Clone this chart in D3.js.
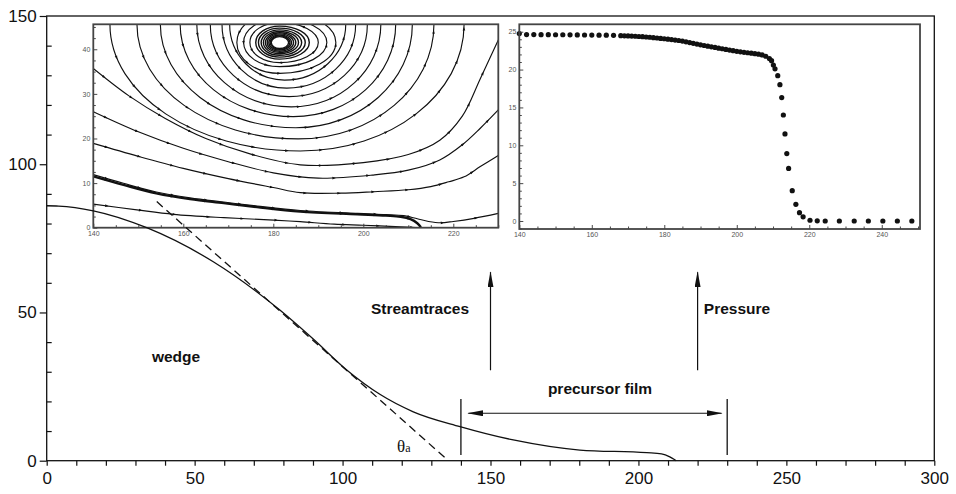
<!DOCTYPE html>
<html>
<head>
<meta charset="utf-8">
<script src="https://cdn.jsdelivr.net/npm/d3@7/dist/d3.min.js"></script>
<style>
  body { margin: 0; background: #fff; }
  svg { display: block; font-family: "Liberation Sans", Arial, sans-serif; }
</style>
</head>
<body>
<svg id="chart" width="956" height="494"></svg>
<script>
// ---- main plot: drop profile + tangent
const profileX = [0, 4, 15.75, 33.8, 56.3, 78.8, 90, 101.4, 112.6, 123.9, 139.7, 157.7, 180.2, 202.8, 207.8, 210.6, 212, 212.7];
const profileY = [86, 85.9, 84.3, 78.6, 67.1, 50.8, 41.1, 30.6, 22.4, 16.5, 11.5, 7.0, 3.6, 2.7, 2.3, 1.3, 0.5, 0];
const tangentX = [37.2, 135.2];
const tangentY = [87.4, 0.5];
const xTicksMain = d3.range(0, 301, 10);
const yTicksMajor = [0, 50, 100, 150];
const yTicksMinor = [10, 20, 30, 40, 60, 70, 80, 90, 110, 120, 130, 140];

// film markers (data units of the main plot)
const filmBounds = [140, 230];
const filmBarY = [1.9, 20.8];
const filmArrowY = 16;
const filmArrowTips = [142.5, 228.1];
const upArrowX = [150, 220];
const upArrowY = [30.5, 63.6];

// ---- inset 1: streamtraces (x, y in inset units)
const streamLower = [
  [[140, 5.3], [149.7, 4.0], [157.8, 3.0], [169, 2.25], [180.1, 1.7], [186, 1.35], [193.5, 0.8], [200, 0.55], [208.3, 0.2], [212.5, 0]],
  [[140, 11.5], [146.7, 9.6], [154, 7.7], [161.5, 6.4], [169, 5.5], [176.4, 4.6], [186, 3.6], [198.7, 3.0], [205, 2.7], [208.3, 2.45], [210.5, 1.9], [212, 1.0], [212.8, 0.1]],
  [[140, 11.9], [146.7, 9.95], [154, 8.0], [161.5, 6.7], [169, 5.75], [176.4, 4.85], [186, 3.85], [198.7, 3.2], [205, 2.95], [209, 2.7], [212, 2.0], [214.5, 1.4], [217.2, 1.1], [220, 1.4], [224.6, 2.1], [230, 3.2]],
  [[140, 18.9], [150, 16.0], [160, 13.3], [170, 11.0], [180, 9.0], [186, 7.85], [195, 7.75], [202.4, 8.07], [210, 8.5], [215, 9.2], [219, 10.3], [222.4, 11.4], [226, 13.7], [230, 16.2]],
  [[140, 26.0], [150, 21.5], [160, 17.8], [170, 14.8], [180, 12.3], [190, 11.1], [202, 11.8], [210, 12.9], [217, 15.2], [222, 18.6], [226, 22.3], [230, 26.4]],
  [[140, 35.7], [148, 29.5], [156, 24.5], [165, 20], [175, 16.5], [186, 14.1], [200, 14.6], [210, 16.4], [217, 19.6], [222, 25], [226, 33.4], [230, 42.1]]
];
// loops: centre x, centre y, left / right half-width, depth below centre (inset units)
const loopCx = [186, 185.5, 185, 184.5, 184, 183.5, 183, 182.5, 181.4, 181.4, 181.4];
const loopCy = [45.6, 45.6, 45.6, 45.6, 45.6, 45.6, 45.6, 45.6, 41.5, 41.5, 41.5];
const loopLeft = [42.3, 35.8, 30.1, 25.2, 21, 17.5, 14.4, 12.2, 9.5, 8.0, 6.6];
const loopRight = [36.4, 30.2, 25.9, 22.7, 19.9, 17.4, 15.3, 13.6, 12.5, 10.5, 8.6];
const loopDepth = [28.4, 25.7, 23.2, 20.7, 18.5, 16.2, 14.3, 12.5, 6.9, 5.4, 4.5];
// closed rings round the vortex
const vortex = [181.4, 41.5];
const ringLeft = [5.3, 4.7, 4.1, 3.6, 3.15, 2.75, 2.4, 2.1, 1.85];
const ringRight = [6.6, 5.7, 4.9, 4.2, 3.6, 3.1, 2.65, 2.3, 2.0];
const ringDepth = [3.7, 3.25, 2.85, 2.5, 2.2, 1.95, 1.7, 1.5, 1.33];

// ---- inset 2: pressure
const pressX = [140, 142, 144, 146, 148, 150, 152, 154, 156, 158, 160, 162, 164, 166,
  168, 169, 170, 171, 172, 173, 174, 175, 176, 177, 178, 179, 180, 181, 182, 183, 184, 185, 186, 187, 188, 189,
  190, 191, 192, 193, 194, 195, 196, 197, 198, 199, 200, 201, 202, 203, 204, 205, 206, 207, 208, 209, 209.6, 210.1,
  210.55, 211.3, 211.9, 212.4, 212.85, 213.3, 213.8, 214.3, 215.3, 216.3, 217.3, 218.3, 220.2, 222.2, 224.4,
  228.3, 232.4, 236.3, 240.3, 244.3, 248.3];
const pressY = [24.75, 24.62, 24.62, 24.61, 24.61, 24.6, 24.6, 24.59, 24.58, 24.57, 24.56, 24.55, 24.54, 24.53,
  24.48, 24.46, 24.44, 24.42, 24.4, 24.37, 24.34, 24.3, 24.27, 24.22, 24.17, 24.12, 24.07, 24.02, 23.96, 23.9, 23.84, 23.76, 23.67, 23.57, 23.47, 23.37,
  23.27, 23.18, 23.09, 23.0, 22.92, 22.83, 22.75, 22.66, 22.58, 22.49, 22.41, 22.34, 22.28, 22.22, 22.16, 22.1, 22.03, 21.93, 21.76, 21.45, 21.17, 20.6,
  20.1, 19.2, 18.0, 16.3, 14.0, 11.5, 8.9, 6.95, 4.0, 2.2, 1.1, 0.55, 0.1, 0.02, 0,
  0, 0, 0, 0, 0, 0];

const svg = d3.select("#chart");

// MAIN SCALES
const X = d3.scaleLinear().domain([0, 300]).range([46.7, 934.3]);
const Y = d3.scaleLinear().domain([0, 150]).range([460.7, 16]);

// frame
svg.append("rect")
  .attr("x", X(0)).attr("y", Y(150))
  .attr("width", X(300) - X(0)).attr("height", Y(0) - Y(150))
  .attr("fill", "none").attr("stroke", "#111").attr("stroke-width", 1.3);

const xAxisG = svg.append("g").attr("transform", `translate(0,${Y(0)})`)
  .call(d3.axisBottom(X).tickValues(xTicksMain).tickSize(5).tickPadding(6)
    .tickFormat((d) => (d % 50 === 0 ? d : "")));
const yAxisG = svg.append("g").attr("transform", `translate(${X(0)},0)`)
  .call(d3.axisLeft(Y).tickValues(yTicksMajor).tickSize(7).tickPadding(3));
const yMinorG = svg.append("g").attr("transform", `translate(${X(0)},0)`)
  .call(d3.axisRight(Y).tickValues(yTicksMinor).tickSize(5).tickFormat(""));
[xAxisG, yAxisG, yMinorG].forEach((g) => {
  g.select(".domain").remove();
  g.selectAll("line").attr("stroke", "#111").attr("stroke-width", 1.2);
  g.selectAll("text").attr("fill", "#111").style("font-size", "17px")
    .style("font-family", '"Liberation Sans", Arial, sans-serif');
});

// INSETS
function insetAxes(g, sx, sy, xMajor, xMinor, yMajor, yMinor) {
  const b = sy.range()[0];
  const l = sx.range()[0];
  const ax = [
    g.append("g").attr("transform", `translate(0,${b})`)
      .call(d3.axisBottom(sx).tickValues(xMajor).tickSize(-4).tickPadding(3).tickFormat(d3.format("d"))),
    g.append("g").attr("transform", `translate(0,${b})`)
      .call(d3.axisBottom(sx).tickValues(xMinor).tickSize(-2.5).tickFormat("")),
    g.append("g").attr("transform", `translate(${l},0)`)
      .call(d3.axisLeft(sy).tickValues(yMajor).tickSize(-4).tickPadding(3).tickFormat(d3.format("d"))),
    g.append("g").attr("transform", `translate(${l},0)`)
      .call(d3.axisLeft(sy).tickValues(yMinor).tickSize(-2.5).tickFormat(""))
  ];
  ax.forEach((a) => {
    a.select(".domain").remove();
    a.selectAll("line").attr("stroke", "#333").attr("stroke-width", 0.9);
    a.selectAll("text").attr("fill", "#555").style("font-size", "7px")
      .style("font-family", '"Liberation Sans", Arial, sans-serif');
  });
}
function insetFrame(g, sx, sy) {
  g.append("rect")
    .attr("x", sx.range()[0]).attr("y", sy.range()[1])
    .attr("width", sx.range()[1] - sx.range()[0])
    .attr("height", sy.range()[0] - sy.range()[1])
    .attr("fill", "none").attr("stroke", "#444").attr("stroke-width", 1.8);
}
// closed curve made of four quarter ellipses, centre (cx, cy) in px
function loopPath(cx, cy, rl, rr, rb) {
  const k = 0.5523;
  const p = d3.path();
  p.moveTo(cx, cy - rb);
  p.bezierCurveTo(cx - k * rl, cy - rb, cx - rl, cy - k * rb, cx - rl, cy);
  p.bezierCurveTo(cx - rl, cy + k * rb, cx - k * rl, cy + rb, cx, cy + rb);
  p.bezierCurveTo(cx + k * rr, cy + rb, cx + rr, cy + k * rb, cx + rr, cy);
  p.bezierCurveTo(cx + rr, cy - k * rb, cx + k * rr, cy - rb, cx, cy - rb);
  return p.toString();
}

// inset 1
const IX1 = d3.scaleLinear().domain([140, 230]).range([93.3, 498.3]);
const IY1 = d3.scaleLinear().domain([0, 45.6]).range([227.7, 24.3]);
const in1 = svg.append("g");
in1.append("rect").attr("x", 93.3).attr("y", 24.3)
  .attr("width", IX1(230) - IX1(140)).attr("height", IY1(0) - IY1(45.6)).attr("fill", "#fff");
svg.append("clipPath").attr("id", "clip1").append("rect")
  .attr("x", IX1(140)).attr("y", IY1(45.6))
  .attr("width", IX1(230) - IX1(140)).attr("height", IY1(0) - IY1(45.6));
const streams = in1.append("g").attr("clip-path", "url(#clip1)")
  .attr("fill", "none").attr("stroke", "#111").attr("stroke-width", 1.15);
const line1 = d3.line().x((d) => IX1(d[0])).y((d) => IY1(d[1])).curve(d3.curveCatmullRom);

const pathNodes = [];
streamLower.forEach((s, i) => {
  const p = streams.append("path").attr("d", line1(s))
    .attr("stroke-width", i === 1 ? 2.4 : 1.15);
  pathNodes.push(p.node());
});
loopCx.forEach((c, i) => {
  const px = IX1(c), py = IY1(loopCy[i]);
  const node = streams.append("path")
    .attr("d", loopPath(px, py,
      px - IX1(c - loopLeft[i]), IX1(c + loopRight[i]) - px,
      IY1(loopCy[i] - loopDepth[i]) - py))
    .node();
  pathNodes.push(node);
});
const vx = IX1(vortex[0]), vy = IY1(vortex[1]);
ringLeft.forEach((rl, i) => {
  streams.append("path")
    .attr("d", loopPath(vx, vy, vx - IX1(vortex[0] - rl), IX1(vortex[0] + ringRight[i]) - vx,
      IY1(vortex[1] - ringDepth[i]) - vy))
    .attr("stroke-width", 1.4);
});
// small flow marks along the traces (only inside the frame)
pathNodes.forEach((node) => {
  const len = node.getTotalLength();
  for (let s = 14; s < len - 6; s += 34) {
    const a = node.getPointAtLength(s), b = node.getPointAtLength(s + 1);
    if (a.y < IY1(45.6) + 2) continue;
    const ang = Math.atan2(b.y - a.y, b.x - a.x) * 180 / Math.PI;
    streams.append("path").attr("d", "M-2,-1.3L1.5,0L-2,1.3Z")
      .attr("transform", `translate(${a.x},${a.y}) rotate(${ang})`)
      .attr("fill", "#111").attr("stroke", "none");
  }
});
insetAxes(in1, IX1, IY1, [140, 160, 180, 200, 220], d3.range(145, 231, 5).filter((d) => d % 20 !== 0),
  [0, 10, 20, 30, 40], d3.range(2.5, 45.6, 2.5).filter((d) => d % 10 !== 0));
insetFrame(in1, IX1, IY1);

// inset 2
const IX2 = d3.scaleLinear().domain([140, 250.55]).range([519.3, 920]);
const IY2 = d3.scaleLinear().domain([-1.057, 25.98]).range([229, 24.3]);
const in2 = svg.append("g");
in2.append("rect").attr("x", 519.3).attr("y", 24.3)
  .attr("width", IX2(250.55) - IX2(140)).attr("height", IY2(-1.057) - IY2(25.98)).attr("fill", "#fff");
in2.append("g").selectAll("circle").data(pressX).join("circle")
  .attr("cx", (d) => IX2(d)).attr("cy", (d, i) => IY2(pressY[i]))
  .attr("r", 2.6).attr("fill", "#111");
insetAxes(in2, IX2, IY2, [140, 160, 180, 200, 220, 240], d3.range(145, 251, 5).filter((d) => d % 20 !== 0),
  [0, 5, 10, 15, 20, 25], d3.range(-1, 26, 1).filter((d) => d % 5 !== 0));
insetFrame(in2, IX2, IY2);

// PROFILE + TANGENT on top
const lineMain = d3.line().x((d) => X(d[0])).y((d) => Y(d[1])).curve(d3.curveMonotoneX);
svg.append("path").attr("d", lineMain(profileX.map((x, i) => [x, profileY[i]])))
  .attr("fill", "none").attr("stroke", "#111").attr("stroke-width", 1.3);
svg.append("path").attr("d", lineMain(tangentX.map((x, i) => [x, tangentY[i]])))
  .attr("fill", "none").attr("stroke", "#111").attr("stroke-width", 1.3)
  .attr("stroke-dasharray", "8,5");

// ANNOTATIONS
const defs = svg.append("defs");
defs.append("marker").attr("id", "head").attr("viewBox", "0 0 16 6")
  .attr("refX", 15).attr("refY", 3).attr("markerWidth", 16).attr("markerHeight", 6)
  .attr("markerUnits", "userSpaceOnUse").attr("orient", "auto-start-reverse")
  .append("path").attr("d", "M0,0L16,3L0,6Z").attr("fill", "#111");

filmBounds.forEach((x) => {
  svg.append("line").attr("x1", X(x)).attr("x2", X(x))
    .attr("y1", Y(filmBarY[0])).attr("y2", Y(filmBarY[1]))
    .attr("stroke", "#111").attr("stroke-width", 1.3);
});
svg.append("line")
  .attr("x1", X(filmArrowTips[0])).attr("x2", X(filmArrowTips[1]))
  .attr("y1", Y(filmArrowY)).attr("y2", Y(filmArrowY))
  .attr("stroke", "#111").attr("stroke-width", 1.2)
  .attr("marker-start", "url(#head)").attr("marker-end", "url(#head)");
upArrowX.forEach((x) => {
  svg.append("line").attr("x1", X(x)).attr("x2", X(x))
    .attr("y1", Y(upArrowY[0])).attr("y2", Y(upArrowY[1]))
    .attr("stroke", "#111").attr("stroke-width", 1.2)
    .attr("marker-end", "url(#head)");
});

const labels = [
  { t: "wedge", x: 176, y: 357 },
  { t: "Streamtraces", x: 420, y: 309 },
  { t: "Pressure", x: 737, y: 309 },
  { t: "precursor film", x: 600, y: 389 }
];
svg.selectAll("text.lbl").data(labels).join("text").attr("class", "lbl")
  .attr("x", (d) => d.x).attr("y", (d) => d.y).attr("dy", "0.35em")
  .attr("text-anchor", "middle").attr("fill", "#111")
  .style("font-size", "15.5px").style("font-weight", "bold")
  .text((d) => d.t);

const theta = svg.append("text").attr("x", 397).attr("y", 452)
  .attr("fill", "#111").style("font-family", '"Liberation Serif", "DejaVu Serif", serif')
  .style("font-size", "17px");
theta.append("tspan").text("θ");
theta.append("tspan").style("font-size", "12px").text("a");
</script>
</body>
</html>
